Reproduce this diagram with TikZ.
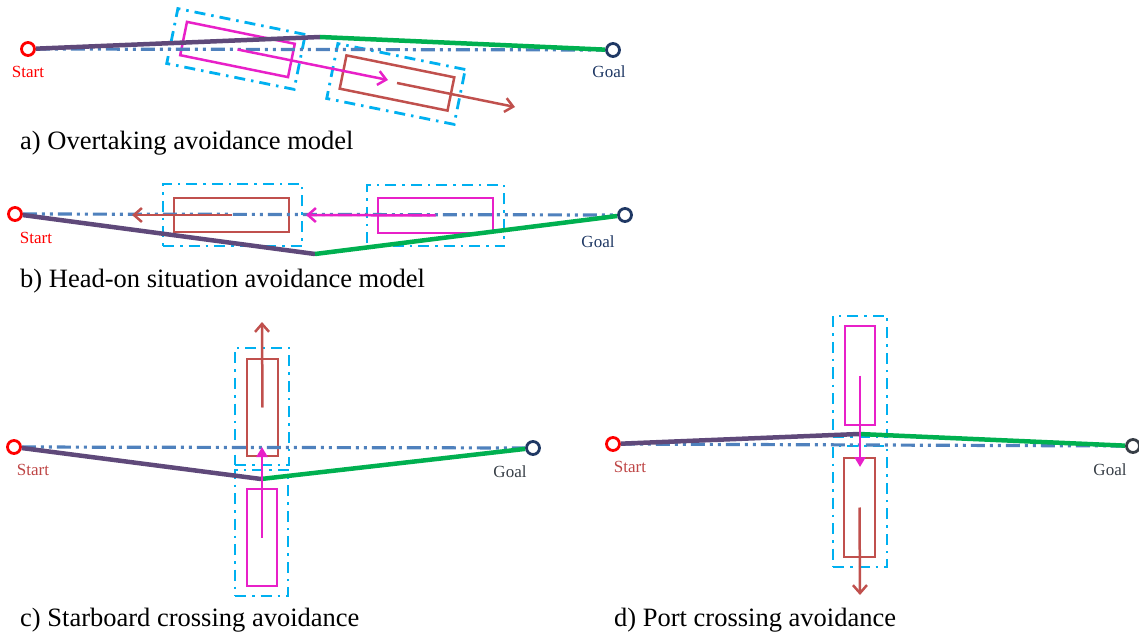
\documentclass[tikz,border=0pt]{standalone}
\usepackage{fontspec}
\setmainfont{Liberation Serif}
\usetikzlibrary{arrows.meta}

\definecolor{shipred}{RGB}{192,80,77}
\definecolor{shipmag}{RGB}{232,32,200}
\definecolor{zonecyan}{RGB}{0,176,240}
\definecolor{planblue}{RGB}{79,129,189}
\definecolor{pathpurple}{RGB}{95,73,122}
\definecolor{pathgreen}{RGB}{0,176,80}
\definecolor{goalnavy}{RGB}{31,56,100}
\definecolor{startred}{RGB}{255,0,0}
\definecolor{startdark}{RGB}{190,70,70}
\definecolor{goalgray}{RGB}{55,62,70}

\begin{document}
\begin{tikzpicture}[
  x=1bp, y=-1bp,
  ship/.style={draw, line width=2.5bp, inner sep=0pt},
  zone/.style={draw=zonecyan, line width=2.8bp, inner sep=0pt,
    dash pattern=on 11bp off 6bp on 2.5bp off 6bp},
  plan/.style={draw=planblue, line width=3.2bp,
    dash pattern=on 14bp off 5bp on 3bp off 5bp on 3bp off 5bp},
  route/.style={line width=4.5bp},
  vec/.style={-{Straight Barb[length=8bp, width=14bp]}, line width=2.5bp},
  tvec/.style={-{Triangle[length=10bp, width=11bp]}, line width=2.5bp},
  port/.style={circle, draw, fill=white, line width=2.8bp, minimum size=13bp, inner sep=0pt},
  lbl/.style={font=\fontsize{17bp}{19bp}\selectfont, inner sep=0pt},
  captxt/.style={font=\fontsize{26.5bp}{30bp}\selectfont, inner sep=0pt, anchor=base west},
]
\useasboundingbox (0,0) rectangle (1139,639);

% a) overtaking
\node[zone, minimum width=130bp, minimum height=56bp, rotate=-11.5] (za1) at (236,49) {};
\node[zone, minimum width=130bp, minimum height=56bp, rotate=-11.5] (za2) at (396,84) {};
\node[ship, draw=shipmag, minimum width=110bp, minimum height=34bp, rotate=-11.5] (ma) at (237.5,49.5) {};
\node[ship, draw=shipred, minimum width=110bp, minimum height=34bp, rotate=-11.5] (ra) at (397,83) {};
\node[port, draw=startred] (sa) at (28,49) {};
\node[port, draw=goalnavy] (ga) at (613,50) {};
\coordinate (wa) at (320,37);   % turning point
\coordinate (mta) at (388,80);
\coordinate (rta) at (515,107);

\draw[plan] (sa) -- (ga);
\draw[route, pathpurple] (sa) -- (wa);
\draw[route, pathgreen] (wa) -- (ga);
\draw[vec, shipmag] (ma.center) -- (mta);
\draw[vec, shipred] (ra.center) -- (rta);

\node[lbl, startred] (sla) at (28,72) {Start};
\node[lbl, goalnavy] (gla) at (609,72) {Goal};
\node[captxt] (capa) at (20,150) {a) Overtaking avoidance model};

% b) head-on
\node[zone, minimum width=139bp, minimum height=62bp] (zb1) at (232.5,215) {};
\node[zone, minimum width=137bp, minimum height=61bp] (zb2) at (435.5,215.5) {};
\node[ship, draw=shipred, minimum width=115bp, minimum height=34bp] (rb) at (231.5,215) {};
\node[ship, draw=shipmag, minimum width=115bp, minimum height=35bp] (mb) at (435.5,215.5) {};
\node[port, draw=startred] (sb) at (15,214) {};
\node[port, draw=goalnavy] (gb) at (625,215) {};
\coordinate (wb) at (315,254);  % turning point
\coordinate (rtb) at (132,215);
\coordinate (mtb) at (306,215);

\draw[plan] (sb) -- (gb);
\draw[route, pathpurple] (sb) -- (wb);
\draw[route, pathgreen] (wb) -- (gb);
\draw[vec, shipred] (rb.center) -- (rtb);
\draw[vec, shipmag] (mb.center) -- (mtb);

\node[lbl, startred] (slb) at (36,238) {Start};
\node[lbl, goalnavy] (glb) at (598,242) {Goal};
\node[captxt] (capb) at (20,288) {b) Head-on situation avoidance model};

% c) starboard crossing
\node[zone, minimum width=54bp, minimum height=117bp] (zc1) at (262,406.5) {};
\node[zone, minimum width=53bp, minimum height=126bp] (zc2) at (261.5,533) {};
\node[ship, draw=shipred, minimum width=31bp, minimum height=97bp] (rc) at (262.5,407.5) {};
\node[ship, draw=shipmag, minimum width=30bp, minimum height=97bp] (mc) at (262,537.5) {};
\node[port, draw=startred] (sc) at (14,447) {};
\node[port, draw=goalnavy] (gc) at (533,448) {};
\coordinate (wc) at (261,479);  % turning point
\coordinate (rtc) at (262,322);
\coordinate (mtc) at (262,447);

\draw[plan] (sc) -- (gc);
\draw[route, pathpurple] (sc) -- (wc);
\draw[route, pathgreen] (wc) -- (gc);
\draw[vec, shipred] (rc.center) -- (rtc);
\draw[tvec, shipmag] (mc.center) -- (mtc);

\node[lbl, startdark] (slc) at (33,470) {Start};
\node[lbl, goalgray] (glc) at (510,472) {Goal};
\node[captxt] (capc) at (20,626) {c) Starboard crossing avoidance};

% d) port crossing
\node[zone, minimum width=54bp, minimum height=121bp] (zd1) at (860,376.5) {};
\node[zone, minimum width=54bp, minimum height=121bp] (zd2) at (860,506.5) {};
\node[ship, draw=shipmag, minimum width=30bp, minimum height=99bp] (md) at (860,375.5) {};
\node[ship, draw=shipred, minimum width=31bp, minimum height=99bp] (rd) at (859.5,507.5) {};
\node[port, draw=startred] (sd) at (613,444) {};
\node[port, draw=goalgray] (gd) at (1133,446) {};
\coordinate (wd) at (859,434);  % turning point
\coordinate (mtd) at (860,467);
\coordinate (rtd) at (860,595);

\draw[plan] (sd) -- (gd);
\draw[route, pathpurple] (sd) -- (wd);
\draw[route, pathgreen] (wd) -- (gd);
\draw[tvec, shipmag] (md.center) -- (mtd);
\draw[vec, shipred] (rd.center) -- (rtd);

\node[lbl, startdark] (sld) at (630,467) {Start};
\node[lbl, goalgray] (gld) at (1110,470) {Goal};
\node[captxt] (capd) at (614,626) {d) Port crossing avoidance};

\end{tikzpicture}
\end{document}
